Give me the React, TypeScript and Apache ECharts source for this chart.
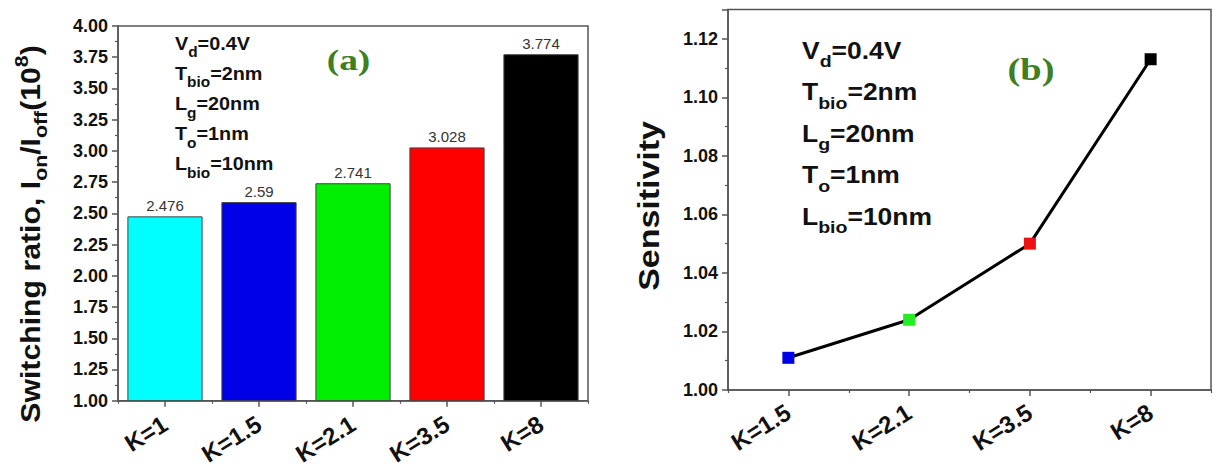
import React, { useEffect, useRef } from "react";
import * as echarts from "echarts";

const kLabelsA = ["K=1", "K=1.5", "K=2.1", "K=3.5", "K=8"];
const ratioValues = [2.476, 2.59, 2.741, 3.028, 3.774];
const barColors = ["#00FFFF", "#0000E6", "#00EE00", "#FF0000", "#000000"];

const kLabelsB = ["K=1.5", "K=2.1", "K=3.5", "K=8"];
const sensitivityValues = [1.011, 1.024, 1.05, 1.113];
const markerColors = ["#0000E6", "#22EE22", "#EE1111", "#000000"];

const yMinA = 1.0;
const yMaxA = 4.0;
const yStepA = 0.25;
const yMinB = 1.0;
const yMaxB = 1.13;
const yStepB = 0.02;

const annoLines = [
  ["V", "d", "=0.4V"],
  ["T", "bio", "=2nm"],
  ["L", "g", "=20nm"],
  ["T", "o", "=1nm"],
  ["L", "bio", "=10nm"],
];

const SANS = "'Liberation Sans', Arial, sans-serif";
const SERIF = "'Liberation Serif', 'Times New Roman', serif";
const AXIS = "#555";

function annoText(x: number, y0: number, dy: number, fs: number, sfs: number, sx: number) {
  return annoLines.map((l, i) => ({
    type: "text",
    x,
    y: y0 + i * dy,
    scaleX: sx,
    style: {
      text: `{m|${l[0]}}{s|${l[1]}}{m|${l[2]}}`,
      align: "left",
      verticalAlign: "middle",
      rich: {
        m: { fontSize: fs, fontWeight: "bold", fontFamily: SANS, fill: "#111", lineHeight: fs + 14 },
        s: { fontSize: sfs, fontWeight: "bold", fontFamily: SANS, fill: "#111", lineHeight: sfs + 2, verticalAlign: "bottom" },
      },
    },
  }));
}

export default function App() {
  const ref = useRef<HTMLDivElement>(null);
  useEffect(() => {
    if (!ref.current) return;
    const chart = echarts.init(ref.current, null, { renderer: "svg" });
    const xCommon = (gi: number, data: string[], margin: number, fs: number) => [
      {
        gridIndex: gi,
        type: "category",
        data,
        position: "bottom",
        axisLine: { show: true, lineStyle: { color: AXIS, width: 1.5 } },
        axisTick: { show: true, alignWithLabel: true, length: 6, lineStyle: { color: AXIS, width: 1.5 } },
        axisLabel: { rotate: 32, fontSize: fs, fontWeight: "bold", color: "#111", fontFamily: SANS, margin },
        splitLine: { show: false },
      },
      {
        gridIndex: gi,
        type: "category",
        data,
        position: "bottom",
        axisLine: { show: false },
        axisTick: { show: true, length: 3, lineStyle: { color: AXIS, width: 1.2 } },
        axisLabel: { show: false },
        splitLine: { show: false },
      },
    ];
    const yCommon = (gi: number, min: number, max: number, interval: number) => ({
      gridIndex: gi,
      type: "value",
      min,
      max,
      interval,
      axisLine: { show: true, lineStyle: { color: AXIS, width: 1.5 } },
      axisTick: { show: true, length: 6, lineStyle: { color: AXIS, width: 1.5 } },
      minorTick: { show: true, splitNumber: 2, length: 3, lineStyle: { color: AXIS, width: 1.2 } },
      splitLine: { show: false },
      axisLabel: {
        fontSize: 18,
        fontWeight: "bold",
        color: "#111",
        fontFamily: SANS,
        margin: 10,
        showMaxLabel: gi === 0,
        formatter: (v: number) => v.toFixed(2),
      },
    });

    chart.setOption({
      animation: false,
      backgroundColor: "#fff",
      grid: [
        { left: 118, top: 26, width: 470, height: 374.7, show: true, borderColor: AXIS, borderWidth: 1.5, backgroundColor: "transparent" },
        { left: 728, top: 9.5, width: 483, height: 380.5, show: true, borderColor: AXIS, borderWidth: 1.5, backgroundColor: "transparent" },
      ],
      xAxis: [...xCommon(0, kLabelsA, 21, 24), ...xCommon(1, kLabelsB, 20, 24)],
      yAxis: [yCommon(0, yMinA, yMaxA, yStepA), yCommon(1, yMinB, yMaxB, yStepB)],
      series: [
        {
          type: "bar",
          xAxisIndex: 0,
          yAxisIndex: 0,
          barWidth: "80%",
          data: ratioValues.map((v, i) => ({
            value: v,
            itemStyle: { color: barColors[i], borderColor: "#444", borderWidth: 1 },
          })),
          label: {
            show: true,
            position: "top",
            distance: 3,
            fontSize: 15,
            color: "#333",
            fontFamily: SANS,
            formatter: (p: any) => String(p.value),
          },
        },
        {
          type: "line",
          xAxisIndex: 2,
          yAxisIndex: 1,
          symbol: "rect",
          symbolSize: 12,
          lineStyle: { color: "#000", width: 3 },
          data: sensitivityValues.map((v, i) => ({
            value: v,
            itemStyle: { color: markerColors[i] },
          })),
          z: 3,
        },
      ],
      graphic: [
        {
          type: "text",
          x: 31,
          y: 234,
          rotation: Math.PI / 2,
          scaleX: 1.12,
          style: {
            text: "{m|Switching ratio, I}{s|on}{m|/I}{s|off}{m|(10}{p|8}{m|)}",
            align: "center",
            verticalAlign: "middle",
            rich: {
              m: { fontSize: 27, fontWeight: "bold", fontFamily: SANS, fill: "#111", lineHeight: 38 },
              s: { fontSize: 19, fontWeight: "bold", fontFamily: SANS, fill: "#111", lineHeight: 20, verticalAlign: "bottom" },
              p: { fontSize: 19, fontWeight: "bold", fontFamily: SANS, fill: "#111", lineHeight: 20, verticalAlign: "top" },
            },
          },
        },
        {
          type: "text",
          x: 649,
          y: 206,
          rotation: Math.PI / 2,
          scaleX: 1.17,
          style: {
            text: "Sensitivity",
            align: "center",
            verticalAlign: "middle",
            fontSize: 29,
            fontWeight: "bold",
            fontFamily: SANS,
            fill: "#111",
          },
        },
        ...annoText(175, 43.5, 30.2, 18, 14, 1.1),
        ...annoText(802, 51, 41.5, 23, 17, 1.15),
        {
          type: "text",
          x: 348.5,
          y: 60,
          scaleX: 1.25,
          style: { text: "(a)", align: "center", verticalAlign: "middle", fontSize: 30, fontWeight: "bold", fontFamily: SERIF, fill: "#3f7f1f" },
        },
        {
          type: "text",
          x: 1031,
          y: 70,
          scaleX: 1.2,
          style: { text: "(b)", align: "center", verticalAlign: "middle", fontSize: 32, fontWeight: "bold", fontFamily: SERIF, fill: "#3f7f1f" },
        },
      ],
    });
    return () => chart.dispose();
  }, []);
  return (
    <div
      ref={ref}
      style={{ position: "absolute", left: 0, top: 0, width: 1214, height: 468 }}
    />
  );
}
